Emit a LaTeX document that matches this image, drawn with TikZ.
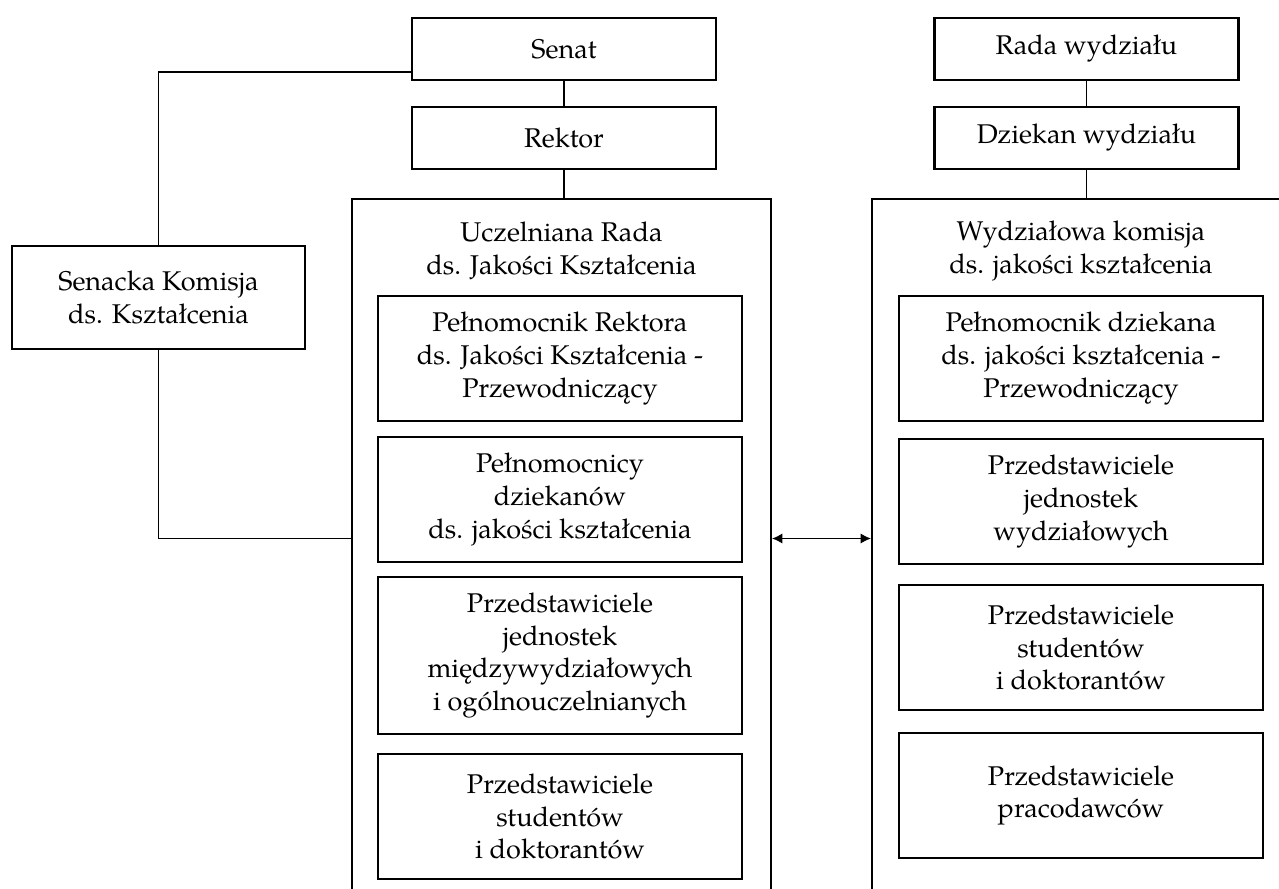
\documentclass[tikz,border=0pt]{standalone}
\usepackage{fontspec}
\setmainfont{TeX Gyre Pagella}
\usetikzlibrary{arrows.meta}
\tikzset{
  box/.style={draw, line width=1.2pt, rectangle, align=center, inner sep=0pt,
              font=\fontsize{15.4}{18.7}\selectfont},
  topbox/.style={box, minimum width=6.08cm, minimum height=1.24cm},
  innerbox/.style={box, minimum width=7.28cm, minimum height=2.5cm},
  outerbox/.style={draw, line width=1.1pt, rectangle, inner sep=0pt, minimum height=14.42cm},
  title/.style={align=center, inner sep=0pt, font=\fontsize{15.4}{18.7}\selectfont},
  conn/.style={line width=1.1pt},
  biarrow/.style={line width=1.1pt, {Latex[length=6pt,width=6pt]}-{Latex[length=6pt,width=6pt]}}
}
\begin{document}
\begin{tikzpicture}[x=0.02cm, y=-0.02cm]
\useasboundingbox (0,0) rectangle (1279,889);
\clip (0,0) rectangle (1279,889);
% outer boxes
\node[outerbox, minimum width=8.38cm] (ucz) at (561.5,559.5) {};
\node[outerbox, minimum width=8.76cm] (wyd) at (1091,559.5) {};
\node[title] (uczt) at (561.5,251) {Uczelniana Rada\\ds. Jakości Kształcenia};
\node[title] (wydt) at (1081,251) {Wydziałowa komisja\\ds. jakości kształcenia};
% top boxes
\node[topbox] (senat) at (564,49) {Senat};
\node[topbox] (rektor) at (564,138) {Rektor};
\node[topbox] (rada) at (1086.5,49) {Rada wydziału};
\node[topbox] (dziekan) at (1086.5,138) {Dziekan wydziału};
% senacka
\node[box, minimum width=5.86cm, minimum height=2.06cm] (senacka) at (158.5,297.5) {Senacka Komisja\\ds. Kształcenia};
% left inner boxes
\node[innerbox] (l1) at (560,358.5) {Pełnomocnik Rektora\\ds. Jakości Kształcenia -\\Przewodniczący};
\node[innerbox] (l2) at (560,499.5) {Pełnomocnicy\\dziekanów\\ds. jakości kształcenia};
\node[innerbox, minimum height=3.14cm] (l3) at (560,655.5) {Przedstawiciele\\jednostek\\międzywydziałowych\\i ogólnouczelnianych};
\node[innerbox] (l4) at (560,816.5) {Przedstawiciele\\studentów\\i doktorantów};
% right inner boxes
\node[innerbox] (r1) at (1081,358.5) {Pełnomocnik dziekana\\ds. jakości kształcenia -\\Przewodniczący};
\node[innerbox] (r2) at (1081,501.5) {Przedstawiciele\\jednostek\\wydziałowych};
\node[innerbox] (r3) at (1081,647.5) {Przedstawiciele\\studentów\\i doktorantów};
\node[innerbox] (r4) at (1081,795.5) {Przedstawiciele\\pracodawców};
% connectors
\coordinate (mid) at (0,538.5);
\draw[conn] (senat.south) -- (rektor.north);
\draw[conn] (rektor.south) -- (rektor.south |- ucz.north);
\draw[conn] (rada.south) -- (dziekan.north);
\draw[conn] (dziekan.south) -- (dziekan.south |- wyd.north);
\draw[conn] ([yshift=9*0.02cm]senat.south west) -| (senacka.north);
\draw[conn] (senacka.south) |- (ucz.west |- mid);
\draw[biarrow] (ucz.east |- mid) -- (wyd.west |- mid);
\end{tikzpicture}
\end{document}
